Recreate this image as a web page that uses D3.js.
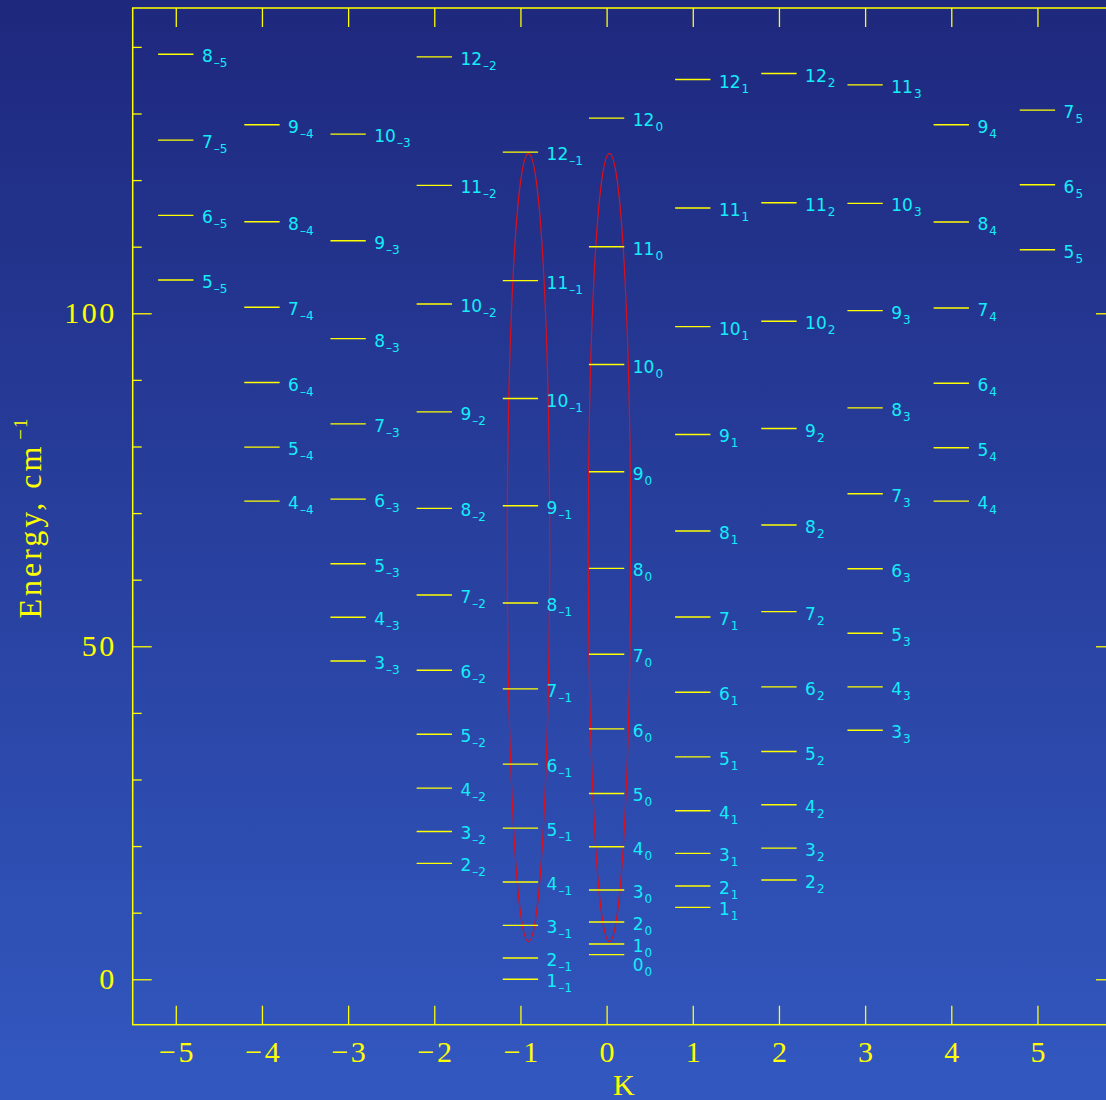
<!DOCTYPE html>
<html>
<head>
<meta charset="utf-8">
<script src="https://cdn.jsdelivr.net/npm/d3@7"></script>
<style>
  html, body { margin: 0; padding: 0; background: #2a44a4; }
  svg { display: block; }
</style>
</head>
<body>
<svg id="chart" width="1106" height="1100"></svg>
<script>
// Rotational levels J_K of the E species, energies in cm^-1.
// Each array lists the levels of one K ladder, starting at J = |K|.
const kValues = [-5, -4, -3, -2, -1, 0, 1, 2, 3, 4, 5];

const energyKm5 = [105.0, 114.7, 126.0, 138.9];
const energyKm4 = [71.8, 79.9, 89.6, 100.9, 113.75, 128.3];
const energyKm3 = [47.8, 54.35, 62.4, 72.1, 83.4, 96.2, 110.9, 126.9];
const energyKm2 = [17.4, 22.2, 28.7, 36.8, 46.4, 57.7, 70.7, 85.2, 101.4, 119.2, 138.5];
const energyKm1 = [0.0, 3.2, 8.1, 14.6, 22.7, 32.3, 43.6, 56.5, 71.1, 87.2, 104.9, 124.2];
const energyK0  = [3.7, 5.3, 8.6, 13.4, 19.9, 27.9, 37.6, 48.8, 61.7, 76.2, 92.3, 110.0, 129.3];
const energyK1  = [10.8, 14.0, 18.9, 25.3, 33.4, 43.1, 54.4, 67.3, 81.8, 98.0, 115.8, 135.1];
const energyK2  = [14.9, 19.7, 26.2, 34.2, 43.9, 55.2, 68.2, 82.7, 98.8, 116.6, 136.0];
const energyK3  = [37.4, 43.9, 51.95, 61.65, 72.9, 85.8, 100.4, 116.5, 134.3];
const energyK4  = [71.8, 79.8, 89.5, 100.8, 113.7, 128.3];
const energyK5  = [109.55, 119.3, 130.5];

const ladders = [energyKm5, energyKm4, energyKm3, energyKm2, energyKm1,
                 energyK0, energyK1, energyK2, energyK3, energyK4, energyK5];

// Outlined groups of the K = -1 and K = 0 ladders (K centre, energy span)
const groupK = [-0.907, 0.033];
const groupEnergyLow = 5.65;
const groupEnergyHigh = 124.0;
const groupHalfWidthK = 0.246;

// Axis ticks
const xTicks = [-5, -4, -3, -2, -1, 0, 1, 2, 3, 4, 5];
const yMajorTicks = [0, 50, 100];
const yMinorTicks = [10, 20, 30, 40, 60, 70, 80, 90, 110, 120, 130, 140];

// ---------------------------------------------------------------
const W = 1106, H = 1100;
const frame = { left: 132.7, right: 1115, top: 8, bottom: 1024.7 };
const yellow = '#ffff00';
const cyan = '#14ecfa';
const serif = '"Liberation Serif", "Times New Roman", serif';
const sans = '"DejaVu Sans", sans-serif';

const svg = d3.select('#chart');

const grad = svg.append('defs').append('linearGradient')
  .attr('id', 'bg').attr('x1', 0).attr('y1', 0).attr('x2', 0).attr('y2', 1);
grad.append('stop').attr('offset', '0%').attr('stop-color', '#1e287d');
grad.append('stop').attr('offset', '100%').attr('stop-color', '#3258c0');
svg.append('rect').attr('width', W).attr('height', H).attr('fill', 'url(#bg)');

const x = d3.scaleLinear().domain([-5.5, 5.9]).range([frame.left, frame.right]);
const y = d3.scaleLinear().domain([-6.82, 145.84]).range([frame.bottom, frame.top]);

// Axes: ticks point inward on all four sides
function styleAxis(g) {
  g.select('.domain').remove();
  g.selectAll('.tick line').attr('stroke', yellow).attr('stroke-width', 1.3);
  g.selectAll('.tick text')
    .attr('fill', yellow)
    .attr('font-family', serif)
    .attr('font-size', 30)
    .attr('letter-spacing', 2.5);
}

svg.append('g').attr('transform', `translate(0,${frame.bottom})`)
  .call(d3.axisBottom(x).tickValues(xTicks).tickSizeInner(-19).tickSizeOuter(0).tickPadding(16))
  .call(styleAxis)
  .selectAll('.tick text').attr('dx', 1.25);

svg.append('g').attr('transform', `translate(0,${frame.top})`)
  .call(d3.axisTop(x).tickValues(xTicks).tickSizeInner(-19).tickSizeOuter(0).tickFormat(''))
  .call(styleAxis);

svg.append('g').attr('transform', `translate(${frame.left},0)`)
  .call(d3.axisLeft(y).tickValues(yMajorTicks).tickSizeInner(-19).tickSizeOuter(0).tickPadding(16))
  .call(styleAxis);
svg.append('g').attr('transform', `translate(${frame.left},0)`)
  .call(d3.axisLeft(y).tickValues(yMinorTicks).tickSizeInner(-9).tickSizeOuter(0).tickFormat(''))
  .call(styleAxis);

svg.append('g').attr('transform', `translate(${frame.right},0)`)
  .call(d3.axisRight(y).tickValues(yMajorTicks).tickSizeInner(-19).tickSizeOuter(0).tickFormat(''))
  .call(styleAxis);
svg.append('g').attr('transform', `translate(${frame.right},0)`)
  .call(d3.axisRight(y).tickValues(yMinorTicks).tickSizeInner(-9).tickSizeOuter(0).tickFormat(''))
  .call(styleAxis);

svg.append('rect')
  .attr('x', frame.left).attr('y', frame.top)
  .attr('width', frame.right - frame.left).attr('height', frame.bottom - frame.top)
  .attr('fill', 'none').attr('stroke', yellow).attr('stroke-width', 1.5);

// Axis titles
svg.append('text')
  .attr('x', (frame.left + frame.right) / 2).attr('y', 1095)
  .attr('text-anchor', 'middle')
  .attr('fill', yellow).attr('font-family', serif).attr('font-size', 30)
  .text('K');

const yTitle = svg.append('text')
  .attr('transform', 'translate(41,518) rotate(-90)')
  .attr('text-anchor', 'middle')
  .attr('fill', yellow).attr('font-family', serif).attr('font-size', 32)
  .attr('letter-spacing', 3);
yTitle.append('tspan').text('Energy, cm');
yTitle.append('tspan').attr('dy', -14).attr('dx', 4).attr('font-size', 19).attr('letter-spacing', 1).text('\u22121');

// Outlined groups
svg.append('g').selectAll('ellipse')
  .data(groupK)
  .join('ellipse')
  .attr('cx', d => x(d))
  .attr('cy', y((groupEnergyLow + groupEnergyHigh) / 2))
  .attr('rx', d => x(d + groupHalfWidthK) - x(d))
  .attr('ry', (y(groupEnergyLow) - y(groupEnergyHigh)) / 2)
  .attr('fill', 'none')
  .attr('stroke', '#d8101c')
  .attr('stroke-width', 1.2);

// Energy levels and their J_K labels
const levels = [];
kValues.forEach((k, i) => {
  ladders[i].forEach((e, j) => levels.push({ k, J: Math.abs(k) + j, e }));
});

const halfLen = 0.205;
const gLevels = svg.append('g');
gLevels.selectAll('line')
  .data(levels)
  .join('line')
  .attr('x1', d => x(d.k - halfLen))
  .attr('x2', d => x(d.k + halfLen))
  .attr('y1', d => y(d.e))
  .attr('y2', d => y(d.e))
  .attr('stroke', yellow)
  .attr('stroke-width', 1.4);

// Place labels next to their level; within a ladder keep labels at least
// a line apart, pushing crowded ones downward.
const minGap = 19.5;
kValues.forEach(k => {
  const col = levels.filter(d => d.k === k).sort((a, b) => b.e - a.e);
  let prev = -Infinity;
  col.forEach(d => {
    let by = y(d.e) + 8;
    if (by - prev < minGap) by = prev + minGap;
    d.labelY = by;
    prev = by;
  });
});

const labels = gLevels.selectAll('text')
  .data(levels)
  .join('text')
  .attr('x', d => x(d.k + halfLen) + 8.5)
  .attr('y', d => d.labelY)
  .attr('fill', cyan)
  .attr('font-family', sans)
  .attr('font-size', 17);
labels.append('tspan').text(d => d.J);
labels.append('tspan')
  .attr('dx', 1).attr('dy', 5)
  .attr('font-size', 12)
  .text(d => d.k < 0 ? '\u2013' + Math.abs(d.k) : String(d.k));
</script>
</body>
</html>
